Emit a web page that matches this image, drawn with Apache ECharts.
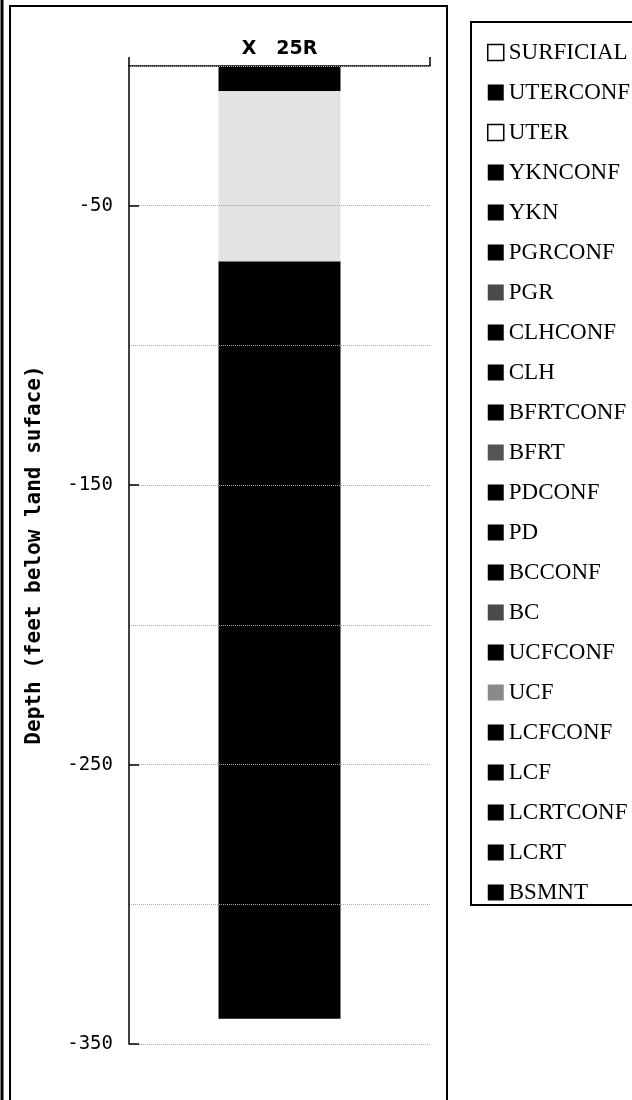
<!DOCTYPE html>
<html>
<head>
<meta charset="utf-8">
<script src="https://cdn.jsdelivr.net/npm/echarts@6/dist/echarts.min.js"></script>
<style>html,body{margin:0;padding:0;background:#fff;}#c{width:632px;height:1100px;}</style>
</head>
<body>
<div id="c"></div>
<script>
const categories = ['X   25R'];
const layerNames = ['SURFICIAL','UTERCONF','UTER','YKNCONF','YKN','PGRCONF','PGR','CLHCONF','CLH','BFRTCONF','BFRT','PDCONF','PD','BCCONF','BC','UCFCONF','UCF','LCFCONF','LCF','LCRTCONF','LCRT','BSMNT'];
// thickness of each layer (feet, negative = downward)
const layerThickness = [0, -9, -61, 0, -271, 0, 0, 0, 0, 0, 0, 0, 0, 0, 0, 0, 0, 0, 0, 0, 0, 0];
const layerColors = ['#ffffff','#000000','#e3e3e3','#000000','#000000','#000000','#4a4a4a','#000000','#000000','#000000','#555555','#000000','#000000','#000000','#4a4a4a','#000000','#8a8a8a','#000000','#000000','#000000','#000000','#000000'];
const yLabelTicks = [-350, -250, -150, -50];
const yMin = -350, yMax = 0;

const chart = echarts.init(document.getElementById('c'), null, {renderer: 'canvas'});

const series = layerNames.map((n, i) => ({
  name: n,
  type: 'bar',
  stack: 'col',
  z: 1,
  barWidth: 122,
  itemStyle: { color: layerColors[i] },
  data: [layerThickness[i]]
}));

const legendData = layerNames.map((n, i) => {
  const white = layerColors[i] === '#ffffff' || n === 'UTER';
  return { name: n, itemStyle: white ? { color: '#fff', borderColor: '#000', borderWidth: 1.5 } : { color: layerColors[i] } };
});

chart.setOption({
  animation: false,
  backgroundColor: '#fff',
  grid: { left: 129, top: 66, right: 202, bottom: 56, containLabel: false },
  xAxis: {
    type: 'category',
    position: 'top',
    data: categories,
    axisLine: { show: true, lineStyle: { color: '#000', width: 1.5 } },
    axisTick: { show: true, length: 9, lineStyle: { color: '#000', width: 1.5 } },
    axisLabel: { show: true, margin: 7, color: '#000', fontFamily: 'DejaVu Sans', fontWeight: 'bold', fontSize: 19 },
    splitLine: { show: false }
  },
  yAxis: [{
    type: 'value',
    min: yMin, max: yMax, interval: 50,
    z: 3,
    axisLine: { show: true, onZero: false, lineStyle: { color: '#000', width: 1.5 } },
    axisTick: { show: false },
    axisLabel: { show: false },
    splitLine: { show: true, lineStyle: { color: '#a8a8a8', type: 'dotted', width: 1 } },
    name: 'Depth (feet below land suface)',
    nameLocation: 'middle',
    nameGap: 84,
    nameTextStyle: { color: '#000', fontFamily: 'DejaVu Sans Mono', fontWeight: 'bold', fontSize: 21 }
  }, {
    type: 'value',
    position: 'left',
    min: yMin, max: yMax,
    z: 3,
    axisLine: { show: false },
    axisTick: { show: true, inside: true, length: 10, lineStyle: { color: '#000', width: 1.5 },
      customValues: yLabelTicks },
    axisLabel: { show: true, margin: 16, color: '#000', fontFamily: 'DejaVu Sans Mono', fontSize: 19,
      customValues: yLabelTicks },
    splitLine: { show: false }
  }],
  legend: {
    orient: 'vertical',
    left: 482,
    top: 36,
    icon: 'rect',
    itemWidth: 16,
    itemHeight: 16,
    itemGap: 17,
    selectedMode: false,
    textStyle: { color: '#000', fontFamily: 'Liberation Serif', fontSize: 23, lineHeight: 23 },
    data: legendData
  },
  series: series,
  graphic: [
    { type: 'rect', shape: { x: 1.5, y: -5, width: 1, height: 1120 }, style: { fill: 'none', stroke: '#000', lineWidth: 2 }, silent: true },
    { type: 'rect', shape: { x: 10, y: 6, width: 437, height: 1120 }, style: { fill: 'none', stroke: '#000', lineWidth: 2 }, silent: true },
    { type: 'rect', shape: { x: 471, y: 22, width: 200, height: 883 }, style: { fill: 'none', stroke: '#000', lineWidth: 2 }, silent: true }
  ]
});
</script>
</body>
</html>
